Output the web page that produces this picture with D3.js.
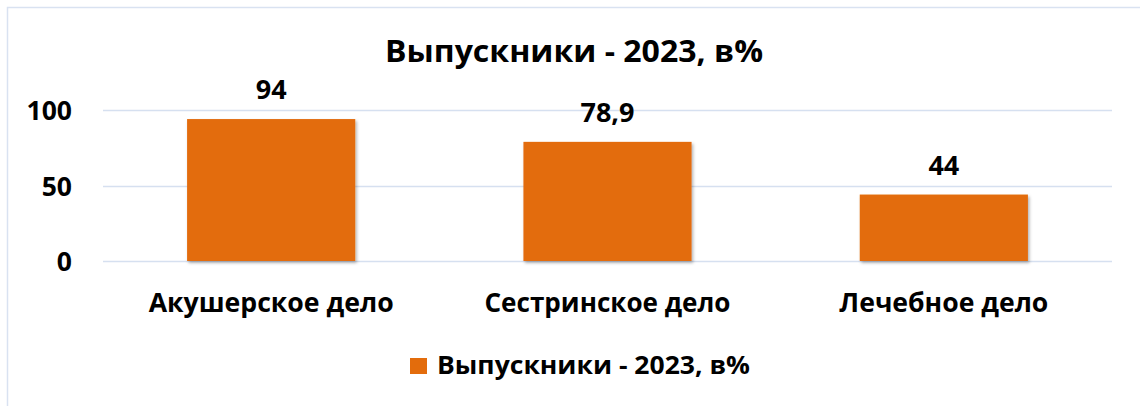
<!DOCTYPE html>
<html>
<head>
<meta charset="utf-8">
<script src="https://cdn.jsdelivr.net/npm/d3@7"></script>
<style>
  html, body { margin: 0; padding: 0; background: #fff; }
  svg { display: block; }
  text { font-family: "Open Sans", "Noto Sans", sans-serif; font-weight: 700; fill: #000; }
</style>
</head>
<body>
<svg id="chart" width="1140" height="406"></svg>
<script>
const title = "Выпускники - 2023, в%";
const seriesName = "Выпускники - 2023, в%";
const categories = ["Акушерское дело", "Сестринское дело", "Лечебное дело"];
const values = [94, 78.9, 44];
const valueLabels = ["94", "78,9", "44"];
const yTicks = [0, 50, 100];

const svg = d3.select("#chart");
const W = 1140, H = 406;

// drop shadow
const defs = svg.append("defs");
const f = defs.append("filter").attr("id", "shadow").attr("x", "-10%").attr("y", "-10%").attr("width", "130%").attr("height", "130%");
f.append("feDropShadow").attr("dx", 1.5).attr("dy", 2).attr("stdDeviation", 1.8)
  .attr("flood-color", "#000").attr("flood-opacity", 0.3);

// outer border (extends beyond right/bottom)
svg.append("rect").attr("x", 7.5).attr("y", 7.5).attr("width", W).attr("height", H)
  .attr("fill", "#fff").attr("stroke", "#d9e2f1").attr("stroke-width", 1.5);

const plot = { left: 103, right: 1112, top: 110, bottom: 261 };

const x = d3.scaleBand().domain(categories).range([plot.left, plot.right])
  .paddingInner(0.5).paddingOuter(0.25);
const y = d3.scaleLinear().domain([0, 100]).range([plot.bottom, plot.top]);

// gridlines
svg.append("g").selectAll("line").data(yTicks).join("line")
  .attr("x1", plot.left).attr("x2", plot.right)
  .attr("y1", d => Math.round(y(d)) + 0.5).attr("y2", d => Math.round(y(d)) + 0.5)
  .attr("stroke", "#d6e0f0").attr("stroke-width", 1.5);

// y axis labels
const yAxis = d3.axisLeft(y).tickValues(yTicks).tickSize(0).tickPadding(0).tickFormat(d3.format("d"));
const gy = svg.append("g").attr("transform", "translate(72,0)").call(yAxis);
gy.select(".domain").remove();
gy.selectAll("text").attr("font-size", 26.5).attr("font-family", "Open Sans").attr("font-weight", 700)
  .attr("fill", "#000").attr("dy", "0.36em");

// bars
svg.append("g").selectAll("rect").data(values).join("rect")
  .attr("x", (d, i) => x(categories[i]))
  .attr("width", x.bandwidth())
  .attr("y", d => y(d))
  .attr("height", d => y(0) - y(d))
  .attr("fill", "#e36c0c")
  .attr("filter", "url(#shadow)");

// data labels
svg.append("g").selectAll("text").data(values).join("text")
  .attr("x", (d, i) => x(categories[i]) + x.bandwidth() / 2)
  .attr("y", d => y(d) - 20)
  .attr("text-anchor", "middle")
  .attr("font-size", 27)
  .text((d, i) => valueLabels[i]);

// x axis labels
const catWidths = [245, 246, 209];
const xAxis = d3.axisBottom(x).tickSize(0).tickPadding(0);
const gx = svg.append("g").attr("transform", "translate(0,312)").call(xAxis);
gx.select(".domain").remove();
gx.selectAll("text").attr("font-size", 26.5).attr("font-family", "Open Sans").attr("font-weight", 700)
  .attr("fill", "#000").attr("dy", 0).attr("y", 0)
  .attr("textLength", (d, i) => catWidths[i]).attr("lengthAdjust", "spacingAndGlyphs");

// title
svg.append("text").attr("x", 574).attr("y", 62).attr("text-anchor", "middle")
  .attr("font-size", 31).attr("textLength", 378).attr("lengthAdjust", "spacingAndGlyphs")
  .text(title);

// legend
const lg = svg.append("g");
lg.append("rect").attr("x", 410).attr("y", 358).attr("width", 17).attr("height", 16).attr("fill", "#e36c0c");
lg.append("text").attr("x", 437).attr("y", 374).attr("font-size", 25)
  .attr("textLength", 313).attr("lengthAdjust", "spacingAndGlyphs").text(seriesName);
</script>
</body>
</html>
